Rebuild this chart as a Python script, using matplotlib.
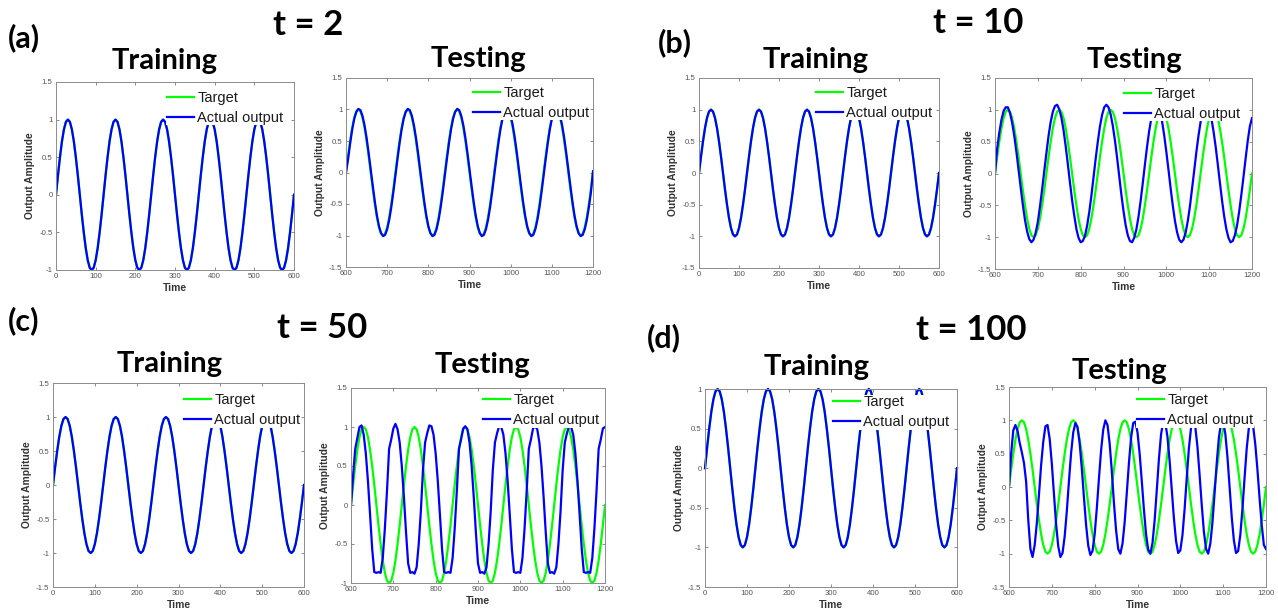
import numpy as np
import matplotlib
matplotlib.use("Agg")
import matplotlib.pyplot as plt
from matplotlib.ticker import MultipleLocator, FuncFormatter

W, H = 1278, 616

# target sine, one sample every 5 time units (0..600, the test window 600..1200 is the same signal)
target = [
    0.00, 0.26, 0.50, 0.71, 0.87, 0.97, 1.00, 0.97, 0.87, 0.71, 0.50, 0.26,
    0.00, -0.26, -0.50, -0.71, -0.87, -0.97, -1.00, -0.97, -0.87, -0.71, -0.50, -0.26,
    0.00, 0.26, 0.50, 0.71, 0.87, 0.97, 1.00, 0.97, 0.87, 0.71, 0.50, 0.26,
    0.00, -0.26, -0.50, -0.71, -0.87, -0.97, -1.00, -0.97, -0.87, -0.71, -0.50, -0.26,
    0.00, 0.26, 0.50, 0.71, 0.87, 0.97, 1.00, 0.97, 0.87, 0.71, 0.50, 0.26,
    0.00, -0.26, -0.50, -0.71, -0.87, -0.97, -1.00, -0.97, -0.87, -0.71, -0.50, -0.26,
    0.00, 0.26, 0.50, 0.71, 0.87, 0.97, 1.00, 0.97, 0.87, 0.71, 0.50, 0.26,
    0.00, -0.26, -0.50, -0.71, -0.87, -0.97, -1.00, -0.97, -0.87, -0.71, -0.50, -0.26,
    0.00, 0.26, 0.50, 0.71, 0.87, 0.97, 1.00, 0.97, 0.87, 0.71, 0.50, 0.26,
    0.00, -0.26, -0.50, -0.71, -0.87, -0.97, -1.00, -0.97, -0.87, -0.71, -0.50, -0.26,
    0.00,
]
# in training the output lies on top of the target for every t
train_output = target

# testing outputs, 600..1200 every 5
test_output_t2 = [
    0.00, 0.21, 0.46, 0.68, 0.85, 0.96, 1.01, 0.99, 0.90, 0.75, 0.55, 0.31,
    0.05, -0.21, -0.46, -0.68, -0.85, -0.96, -1.01, -0.99, -0.90, -0.75, -0.55, -0.31,
    -0.05, 0.21, 0.46, 0.68, 0.85, 0.96, 1.01, 0.99, 0.90, 0.75, 0.55, 0.31,
    0.05, -0.21, -0.46, -0.68, -0.85, -0.96, -1.01, -0.99, -0.90, -0.75, -0.55, -0.31,
    -0.05, 0.21, 0.46, 0.68, 0.85, 0.96, 1.01, 0.99, 0.90, 0.75, 0.55, 0.31,
    0.05, -0.21, -0.46, -0.68, -0.85, -0.96, -1.01, -0.99, -0.90, -0.75, -0.55, -0.31,
    -0.05, 0.21, 0.46, 0.68, 0.85, 0.96, 1.01, 0.99, 0.90, 0.75, 0.55, 0.31,
    0.05, -0.21, -0.46, -0.68, -0.85, -0.96, -1.01, -0.99, -0.90, -0.75, -0.55, -0.31,
    -0.05, 0.21, 0.46, 0.68, 0.85, 0.96, 1.01, 0.99, 0.90, 0.75, 0.55, 0.31,
    0.05, -0.21, -0.46, -0.68, -0.85, -0.96, -1.01, -0.99, -0.90, -0.75, -0.55, -0.31,
    0.02,
]
test_output_t10 = [
    0.00, 0.39, 0.64, 0.84, 0.98, 1.04, 1.04, 0.95, 0.80, 0.59,
    0.34, 0.06, -0.22, -0.49, -0.73, -0.91, -1.03, -1.08, -1.04, -0.93,
    -0.76, -0.52, -0.25, 0.04, 0.32, 0.59, 0.81, 0.97, 1.06, 1.08,
    1.01, 0.88, 0.68, 0.43, 0.15, -0.14, -0.42, -0.66, -0.87, -1.01,
    -1.08, -1.06, -0.98, -0.82, -0.61, -0.35, -0.06, 0.23, 0.50, 0.74,
    0.92, 1.04, 1.08, 1.04, 0.93, 0.75, 0.52, 0.25, -0.04, -0.33,
    -0.59, -0.81, -0.97, -1.06, -1.08, -1.01, -0.88, -0.68, -0.43, -0.15,
    0.14, 0.42, 0.67, 0.87, 1.01, 1.08, 1.06, 0.98, 0.82, 0.60,
    0.34, 0.06, -0.23, -0.50, -0.74, -0.92, -1.04, -1.08, -1.04, -0.93,
    -0.75, -0.52, -0.24, 0.04, 0.33, 0.59, 0.81, 0.97, 1.06, 1.08,
    1.01, 0.87, 0.67, 0.43, 0.15, -0.14, -0.42, -0.67, -0.87, -1.01,
    -1.08, -1.06, -0.97, -0.82, -0.60, -0.34, -0.06, 0.23, 0.51, 0.74,
    0.87,
]
test_output_t50 = [
    0.00, 0.38, 0.72, 0.86, 1.00, 1.02, 0.90, 0.66, 0.31, -0.12,
    -0.56, -0.86, -0.87, -0.86, -0.87, -0.68, -0.30, 0.18, 0.72, 0.84,
    0.98, 1.04, 0.97, 0.80, 0.50, 0.10, -0.35, -0.75, -0.87, -0.86,
    -0.88, -0.80, -0.50, -0.08, 0.45, 0.80, 0.92, 1.02, 1.01, 0.90,
    0.66, 0.31, -0.12, -0.56, -0.86, -0.87, -0.86, -0.87, -0.68, -0.30,
    0.18, 0.72, 0.84, 0.98, 1.01, 0.97, 0.80, 0.50, 0.10, -0.35,
    -0.75, -0.87, -0.86, -0.88, -0.80, -0.50, -0.08, 0.45, 0.80, 0.92,
    1.01, 1.00, 0.90, 0.66, 0.31, -0.12, -0.56, -0.86, -0.87, -0.86,
    -0.87, -0.68, -0.30, 0.18, 0.72, 0.84, 0.98, 1.01, 0.97, 0.80,
    0.50, 0.10, -0.35, -0.75, -0.87, -0.86, -0.88, -0.80, -0.50, -0.08,
    0.45, 0.80, 0.92, 1.01, 1.00, 0.90, 0.66, 0.31, -0.12, -0.56,
    -0.86, -0.87, -0.86, -0.87, -0.68, -0.30, 0.18, 0.72, 0.84, 0.98,
    1.00,
]
test_output_t100 = [
    0.00, 0.50, 0.85, 0.93, 0.84, 0.66, 0.52, 0.36, 0.08, -0.50,
    -0.93, -1.05, -0.87, -0.54, -0.11, 0.33, 0.68, 0.91, 0.93, 0.72,
    0.35, -0.11, -0.56, -0.89, -1.05, -0.99, -0.74, -0.36, 0.09, 0.51,
    0.82, 0.96, 0.90, 0.65, 0.28, -0.16, -0.57, -0.88, -1.02, -0.96,
    -0.71, -0.32, 0.13, 0.55, 0.86, 1.00, 0.93, 0.65, 0.24, -0.24,
    -0.65, -0.93, -1.00, -0.85, -0.53, -0.09, 0.36, 0.74, 0.96, 0.98,
    0.82, 0.50, 0.09, -0.34, -0.71, -0.94, -1.00, -0.84, -0.50, -0.05,
    0.42, 0.79, 0.98, 0.96, 0.75, 0.39, -0.04, -0.47, -0.81, -0.99,
    -0.95, -0.72, -0.33, 0.14, 0.58, 0.89, 1.00, 0.90, 0.60, 0.18,
    -0.27, -0.67, -0.93, -1.00, -0.85, -0.53, -0.09, 0.36, 0.74, 0.96,
    0.98, 0.80, 0.45, 0.00, -0.45, -0.80, -0.99, -0.96, -0.72, -0.33,
    0.14, 0.58, 0.89, 1.00, 0.91, 0.64, 0.26, -0.17, -0.57, -0.87,
    -0.93,
]
test_outputs = [test_output_t2, test_output_t10, test_output_t50, test_output_t100]

tau_labels = ["t = 2", "t = 10", "t = 50", "t = 100"]
panel_tags = ["(a)", "(b)", "(c)", "(d)"]
train_ylim = [(-1, 1.5), (-1.5, 1.5), (-1.5, 1.5), (-1.5, 1)]
test_ylim = [(-1.5, 1.5), (-1.5, 1.5), (-1, 1.5), (-1.5, 1.5)]

# layout in pixels: (left, right, top, bottom) of each axes
train_box = [(56, 294, 82, 270), (699, 939, 78, 268), (53, 304, 383, 587), (705, 957, 389, 587)]
test_box = [(346, 593, 78, 267), (995, 1252, 78, 269), (351, 605, 388, 583), (1009, 1266, 387, 587)]
# legend: left end of the handles, centre of the first row
train_leg = [(167, 96), (816, 91), (184, 398), (833, 400)]
test_leg = [(473, 91), (1124, 92), (483, 398), (1137, 398)]
train_title_pos = [(165, 69), (816, 68), (170, 372), (817, 375)]
test_title_pos = [(478, 67), (1134, 68), (482, 373), (1119, 379)]
tau_pos = [(273, 35), (933, 33), (277, 338), (916, 340)]
tag_pos = [(8, 47), (658, 52), (8, 330), (647, 347)]

GREEN = "#00ff00"
BLUE = "#0000ff"
TITLE_FONT = ["Lato", "DejaVu Sans"]
AX_FONT = ["Liberation Sans", "DejaVu Sans"]

plt.rcParams["font.family"] = AX_FONT

fig = plt.figure(figsize=(W / 100, H / 100), dpi=100)


def make_axes(box):
    l, r, t, b = box
    return fig.add_axes([l / W, 1 - b / H, (r - l) / W, (b - t) / H])


def style_axes(ax, xlim, ylim, leg_xy):
    ax.set_xlim(xlim)
    ax.set_ylim(ylim)
    ax.xaxis.set_major_locator(MultipleLocator(100))
    ax.yaxis.set_major_locator(MultipleLocator(0.5))
    ax.yaxis.set_major_formatter(FuncFormatter(lambda v, p: f"{v:g}"))
    ax.xaxis.set_major_formatter(FuncFormatter(lambda v, p: f"{v:g}"))
    ax.tick_params(direction="in", length=2.5, width=0.6, top=True, right=True,
                   labelsize=5.6, labelcolor="#555555", color="#777777", pad=2.5)
    for s in ax.spines.values():
        s.set_color("#8c8c8c")
        s.set_linewidth(0.7)
    ax.set_xlabel("Time", fontsize=7.4, fontweight="bold", color="#333333", labelpad=2)
    ax.set_ylabel("Output Amplitude", fontsize=7.4, fontweight="bold", color="#333333", labelpad=3)
    lx, ly = leg_xy
    leg = ax.legend(loc="upper left", bbox_to_anchor=((lx - 1) / W, 1 - (ly - 5.5) / H),
                    bbox_transform=fig.transFigure, borderaxespad=0, frameon=True,
                    fancybox=False, edgecolor="none", facecolor="white", framealpha=1,
                    fontsize=10.5, handlelength=1.9, handletextpad=0.2,
                    labelspacing=0.38, borderpad=0.05)
    for txt in leg.get_texts():
        txt.set_color("#1a1a1a")


for i in range(4):
    t_train = 5 * np.arange(len(target))
    t_test = 600 + 5 * np.arange(len(target))
    t_out = 600 + 5 * np.arange(len(test_outputs[i]))

    ax1 = make_axes(train_box[i])
    clip = i != 3
    ax1.plot(t_train, target, color=GREEN, lw=1.6, label="Target", clip_on=clip)
    ax1.plot(t_train, train_output, color=BLUE, lw=1.6, label="Actual output", clip_on=clip)
    style_axes(ax1, (0, 600), train_ylim[i], train_leg[i])

    ax2 = make_axes(test_box[i])
    ax2.plot(t_test, target, color=GREEN, lw=1.6, label="Target")
    ax2.plot(t_out, test_outputs[i], color=BLUE, lw=1.6, label="Actual output")
    style_axes(ax2, (600, 1200), test_ylim[i], test_leg[i])

    x, y = train_title_pos[i]
    fig.text(x / W, 1 - y / H, "Training", ha="center", va="baseline",
             fontsize=21, fontweight="bold", family=TITLE_FONT)
    x, y = test_title_pos[i]
    fig.text(x / W, 1 - y / H, "Testing", ha="center", va="baseline",
             fontsize=21, fontweight="bold", family=TITLE_FONT)
    x, y = tau_pos[i]
    fig.text(x / W, 1 - y / H, tau_labels[i], ha="left", va="baseline",
             fontsize=25, fontweight="bold", family=TITLE_FONT)
    x, y = tag_pos[i]
    fig.text(x / W, 1 - y / H, panel_tags[i], ha="left", va="baseline",
             fontsize=22, fontweight="bold", family=TITLE_FONT)

fig.savefig("out.png", dpi=100)
